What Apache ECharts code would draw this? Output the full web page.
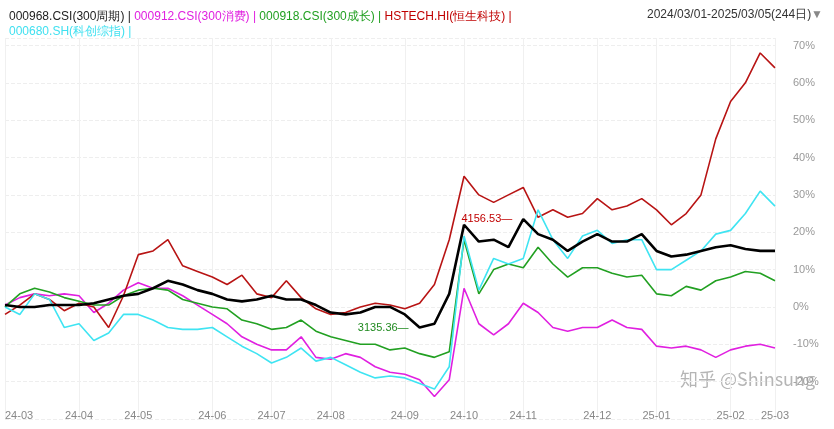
<!DOCTYPE html>
<html>
<head>
<meta charset="UTF-8">
<script src="https://cdn.jsdelivr.net/npm/echarts@6/dist/echarts.min.js"></script>
<style>html,body{margin:0;background:#fff}#chart{width:834px;height:429px}</style>
</head>
<body>
<div id="chart"></div>
<script>
// 周度日期
var dates = ['24-03-01','24-03-08','24-03-15','24-03-22','24-03-29','24-04-05','24-04-12','24-04-19','24-04-26',
  '24-05-03','24-05-10','24-05-17','24-05-24','24-05-31','24-06-07','24-06-14','24-06-21','24-06-28',
  '24-07-05','24-07-12','24-07-19','24-07-26','24-08-02','24-08-09','24-08-16','24-08-23','24-08-30',
  '24-09-06','24-09-13','24-09-20','24-09-27','24-10-04','24-10-11','24-10-18','24-10-25','24-11-01',
  '24-11-08','24-11-15','24-11-22','24-11-29','24-12-06','24-12-13','24-12-20','24-12-27','25-01-03',
  '25-01-10','25-01-17','25-01-24','25-01-31','25-02-07','25-02-14','25-02-21','25-03-05'];
// 涨跌幅 %
var cycle300 = [0.5,0,0,0.5,0.5,0.5,1,2,3,3.5,5,7,6,4.5,3.5,2,1.5,2,3,2,2,0.5,-1.5,-2,-1.5,0,0,-2,-5.5,-4.5,3.5,
  22,17.5,18,16,23.5,19.5,18,15,17.5,19.5,17.5,17.5,19.5,15,13.5,14,15,16,16.5,15.5,15,15];
var consume300 = [0.5,2.5,3.5,3,3.5,3,-1.5,1,4.5,6.5,5,5,3,0.5,-2,-4.5,-8,-10,-11.5,-11.5,-8,-13.5,-14,-12.5,-13.5,
  -16,-17.5,-18,-19.5,-24,-19.5,5,-4.5,-7.5,-4.5,1,-1.5,-5.5,-6.5,-5.5,-5.5,-3.5,-5.5,-6,-10.5,-11,-10.5,-11.5,
  -13.5,-11.5,-10.5,-10,-11];
var growth300 = [0,3.5,5,4,2.5,1.5,0.5,0.5,3,4.5,5,4.5,2,1,0,-0.5,-3.5,-4.5,-6,-5.5,-3.5,-6.5,-8,-9,-10,-10,-11.5,
  -11,-12.5,-13.5,-12,18,3.5,10,11.5,10.5,16,11.5,8,10.5,10.5,9,8,8.5,3.5,3,5.5,4.5,7,8,9.5,9,7];
var hstech = [-2,0.5,3.5,2,-1,1,0,-5.5,3,14,15,18,11,9.5,8,6,8.5,3.5,2.5,7,2.5,-0.5,-2,-1.5,0,1,0.5,-0.5,1,6,18,
  35,30,28,30,32,24,26,24,25,29,26,27,29,26,22,25,30,45,55,60,68,64];
var star50 = [0,-2,3.5,2,-5.5,-4.5,-9,-7,-2,-2,-3.5,-5.5,-6,-6,-5.5,-8,-10.5,-12.5,-15,-13.5,-11,-14.5,-13.5,-15.5,
  -17.5,-19,-18.5,-19,-20.5,-22,-16,19,4.5,13,11.5,13,26,18,13,19,20.5,17,18,18,10,10,12.5,15,19.5,20.5,25,31,27];
var yTicks = [-20,-10,0,10,20,30,40,50,60,70];

var chart = echarts.init(document.getElementById('chart'));
var mk = function (name, data, color, width) {
  return { name: name, type: 'line', data: data, symbol: 'none', smooth: false,
    lineStyle: { color: color, width: width }, itemStyle: { color: color } };
};
var monthStart = function (i) { return i === 0 || dates[i].slice(0, 5) !== dates[i - 1].slice(0, 5); };
var black = mk('000968.CSI', cycle300, '#000000', 2.6);
black.z = 5;
black.markPoint = {
  symbolSize: 0,
  data: [
    { coord: ['24-11-01', 23.5], label: { show: true, position: 'left', formatter: '4156.53—', color: '#c00000', fontSize: 11, offset: [-6, 0] } },
    { coord: ['24-09-13', -5.5], label: { show: true, position: 'left', formatter: '3135.36—', color: '#1f8a1f', fontSize: 11, offset: [-6, 0] } }
  ]
};
chart.setOption({
  animation: false,
  title: [{
    left: 4, top: 4,
    text: '{a|000968.CSI(300周期) | }{b|000912.CSI(300消费) | }{c|000918.CSI(300成长) | }{d|HSTECH.HI(恒生科技) |}\n{e|000680.SH(科创综指) |}',
    textStyle: { fontWeight: 'normal', rich: {
      a: { color: '#222', fontSize: 12, lineHeight: 15 }, b: { color: '#e020e0', fontSize: 12 },
      c: { color: '#22a022', fontSize: 12 }, d: { color: '#c00000', fontSize: 12 }, e: { color: '#40e0f0', fontSize: 12, lineHeight: 15 }
    } }
  }, {
    right: 6, top: 4,
    text: '{u|2024/03/01-2025/03/05(244日)}{t|▼}',
    textStyle: { fontWeight: 'normal', rich: { u: { color: '#333', fontSize: 12, textDecoration: 'underline' }, t: { color: '#888', fontSize: 12 } } }
  }],
  graphic: [{ type: 'text', left: 680, top: 370, style: { text: '知乎 @Shinsung', fill: 'rgba(150,150,150,0.7)', font: '18px "Noto Sans CJK SC"' } }],
  grid: { left: 5, right: 59, top: 38, bottom: 10, outerBoundsMode: 'none' },
  xAxis: {
    type: 'category', data: dates, boundaryGap: false, offset: -17,
    axisLine: { show: false }, axisTick: { show: false },
    axisLabel: { color: '#888', fontSize: 11, interval: monthStart, showMinLabel: true, showMaxLabel: true,
      alignMinLabel: 'left', formatter: function (v) { return v.slice(0, 5); } },
    splitLine: { show: true, interval: monthStart, lineStyle: { color: '#f0f0f0' } }
  },
  yAxis: {
    type: 'value', position: 'right', min: -30, max: 72, interval: 10,
    axisLabel: { color: '#999', fontSize: 11, margin: 18,
      formatter: function (v) { return yTicks.indexOf(v) >= 0 ? v + '%' : ''; } },
    axisLine: { show: false }, axisTick: { show: false },
    splitLine: { lineStyle: { color: '#eeeeee', type: 'dashed' } }
  },
  series: [
    mk('000912.CSI', consume300, '#e020e0', 1.6),
    mk('000918.CSI', growth300, '#22a022', 1.6),
    mk('HSTECH.HI', hstech, '#b81414', 1.6),
    mk('000680.SH', star50, '#3fe4f2', 1.6),
    black
  ]
});
</script>
</body>
</html>
